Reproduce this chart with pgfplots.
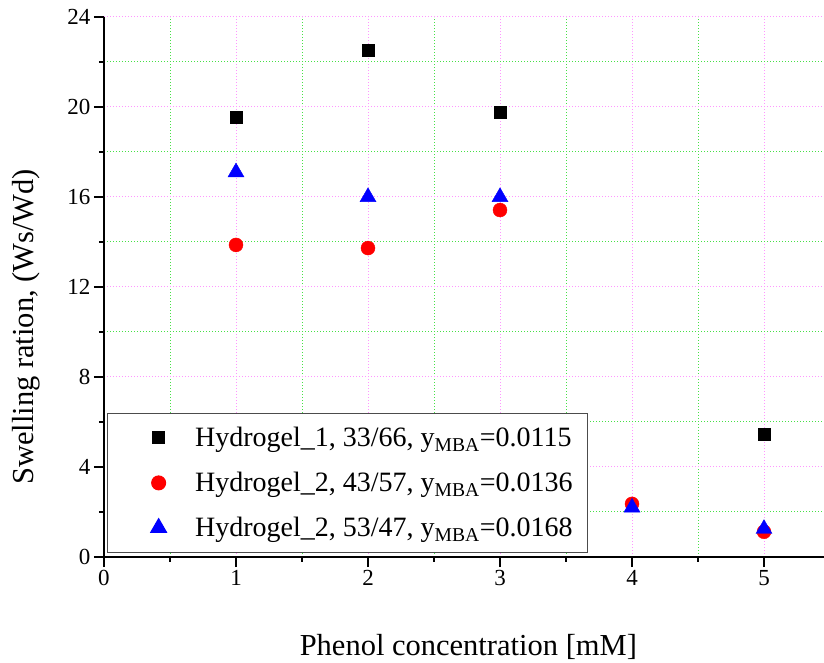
\documentclass[border=0pt]{standalone}
\usepackage{fontspec}
\setmainfont{Liberation Serif}
\usepackage{pgfplots}
\pgfplotsset{compat=1.18}
\definecolor{majgrid}{RGB}{255,150,255}
\definecolor{mingrid}{RGB}{70,225,70}
\pgfplotsset{mymarks/.style={only marks, legend image code/.code={\path (-16pt,0pt) (56pt,0pt); \draw[##1] plot coordinates {(22pt,0pt)};}}}
\begin{document}
\begin{tikzpicture}
\useasboundingbox (-104pt,-106pt) rectangle (720pt,557pt);
\begin{axis}[
  scale only axis, width=720pt, height=540pt,
  xmin=0, xmax=5.4545, ymin=0, ymax=24,
  axis x line=bottom, axis y line=left,
  axis line style={-, line width=1.6pt},
  xtick={0,1,2,3,4,5}, ytick={0,4,8,12,16,20,24},
  minor x tick num=1, minor y tick num=1,
  tick align=outside,
  major tick length=10pt, minor tick length=5pt,
  tick style={black, line width=1.5pt},
  grid=both,
  major grid style={majgrid, line width=1pt, dash pattern=on 1pt off 2pt},
  minor grid style={mingrid, line width=1pt, dash pattern=on 1pt off 2pt},
  /pgf/number format/assume math mode=true,
  ticklabel style={font=\fontsize{23}{27}\selectfont},
  xlabel={Phenol concentration [mM]},
  ylabel={Swelling ration, (Ws/Wd)},
  label style={font=\fontsize{30.5}{34}\selectfont},
  xlabel style={at={(axis description cs:0.506,-0.183)}, anchor=base},
  ylabel style={at={(axis description cs:-0.108,0.426)}, anchor=center},
  legend cell align=left,
  legend style={at={(axis cs:0.02,6.4)}, anchor=north west, draw=black!70, line width=1pt, fill=white,
    font=\fontsize{28}{31}\selectfont, inner xsep=13pt, inner ysep=12pt, row sep=20pt},
]
\addplot[mymarks, mark=square*, mark size=6pt, color=black] coordinates {
  (1,19.53) (2,22.53) (3,19.78) (5,5.47)};
\addlegendentry{Hydrogel\_1, 33/66, y\textsubscript{MBA}=0.0115}
\addplot[mymarks, mark=*, mark size=7pt, color=red] coordinates {
  (1,13.87) (2,13.73) (3,15.42) (4,2.36) (5,1.12)};
\addlegendentry{Hydrogel\_2, 43/57, y\textsubscript{MBA}=0.0136}
\addplot[mymarks, mark=triangle*, mark size=9.2pt, color=blue] coordinates {
  (1,17.1) (2,16.0) (3,16.0) (4,2.2) (5,1.25)};
\addlegendentry{Hydrogel\_2, 53/47, y\textsubscript{MBA}=0.0168}
\end{axis}
\end{tikzpicture}
\end{document}
